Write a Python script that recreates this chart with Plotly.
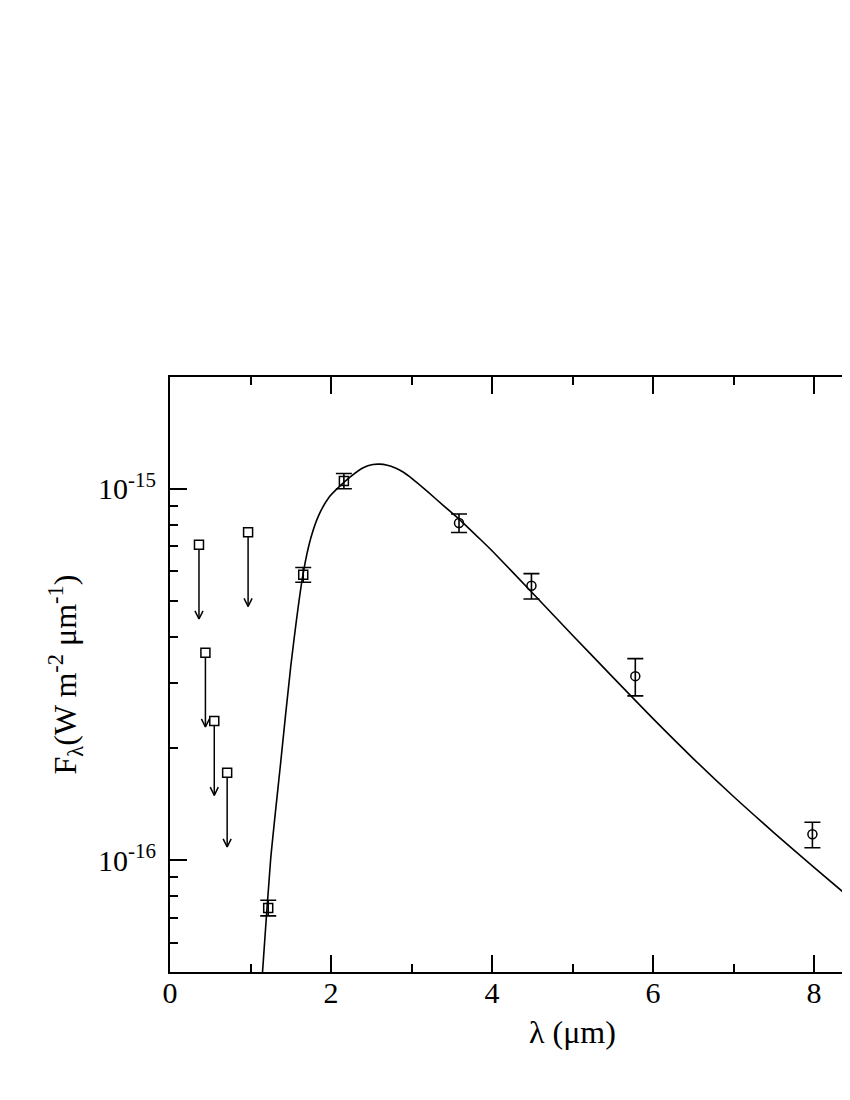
import numpy as np
import plotly.graph_objects as go

# photometric detections (squares: J, H, K)
nir_wl = [1.22, 1.655, 2.16]
nir_flux = [7.44e-17, 5.87e-16, 1.05e-15]
nir_hi = [7.80e-17, 6.14e-16, 1.10e-15]
nir_lo = [7.08e-17, 5.60e-16, 1.00e-15]

# IRAC detections (circles)
irac_wl = [3.59, 4.49, 5.78, 7.98]
irac_flux = [8.09e-16, 5.48e-16, 3.13e-16, 1.175e-16]
irac_hi = [8.55e-16, 5.91e-16, 3.49e-16, 1.265e-16]
irac_lo = [7.63e-16, 5.05e-16, 2.77e-16, 1.08e-16]

# optical upper limits
lim_wl = [0.36, 0.44, 0.55, 0.71, 0.97]
lim_flux = [7.07e-16, 3.62e-16, 2.37e-16, 1.72e-16, 7.64e-16]

# model curve
model_wl = [1.12, 1.15, 1.25, 1.37, 1.50, 1.655, 1.75, 1.85, 1.98, 2.10, 2.24, 2.40,
            2.52, 2.60, 2.70, 2.80, 2.90, 3.00, 3.20, 3.40, 3.60, 3.86, 4.00, 4.50,
            5.00, 5.50, 6.00, 6.50, 7.00, 7.50, 8.00, 8.60]
model_flux = [4.09e-17, 5.02e-17, 1.004e-16, 1.79e-16, 3.325e-16, 5.93e-16, 7.38e-16,
              8.51e-16, 9.52e-16, 1.0125e-15, 1.077e-15, 1.139e-15, 1.162e-15, 1.165e-15,
              1.157e-15, 1.137e-15, 1.108e-15, 1.068e-15, 9.82e-16, 9.00e-16, 8.25e-16,
              7.29e-16, 6.81e-16, 5.25e-16, 4.035e-16, 3.111e-16, 2.405e-16, 1.878e-16,
              1.484e-16, 1.187e-16, 9.56e-17, 7.42e-17]

ARROW_DEX = 0.2      # arrow length in decades
HEAD_DEX = 0.022     # arrowhead height in decades
HEAD_DX = 0.05       # arrowhead half width in microns

FONT = "Liberation Serif"
BLACK = "black"

fig = go.Figure()

fig.add_trace(go.Scatter(
    x=model_wl, y=model_flux, mode="lines",
    line=dict(color=BLACK, width=1.6, shape="spline", smoothing=0.6),
    showlegend=False, hoverinfo="skip",
))

# upper limit arrows
shaft_x, shaft_y, head_x, head_y = [], [], [], []
for wl, f in zip(lim_wl, lim_flux):
    tip = f * 10 ** (-ARROW_DEX)
    shaft_x += [wl, wl, None]
    shaft_y += [f, tip, None]
    head_x += [wl - HEAD_DX, wl, wl + HEAD_DX, None]
    head_y += [tip * 10 ** HEAD_DEX, tip, tip * 10 ** HEAD_DEX, None]
fig.add_trace(go.Scatter(x=shaft_x, y=shaft_y, mode="lines",
                         line=dict(color=BLACK, width=1.5), showlegend=False))
fig.add_trace(go.Scatter(x=head_x, y=head_y, mode="lines",
                         line=dict(color=BLACK, width=1.5), showlegend=False))
fig.add_trace(go.Scatter(
    x=lim_wl, y=lim_flux, mode="markers",
    marker=dict(symbol="square", size=9, color="white", line=dict(color=BLACK, width=1.5)),
    showlegend=False,
))

err_style = dict(type="data", symmetric=False, color=BLACK, thickness=1.6, width=8)

fig.add_trace(go.Scatter(
    x=nir_wl, y=nir_flux, mode="markers",
    marker=dict(symbol="square-open", size=9, color=BLACK, line=dict(width=1.5)),
    error_y=dict(array=np.subtract(nir_hi, nir_flux), arrayminus=np.subtract(nir_flux, nir_lo), **err_style),
    showlegend=False,
))
fig.add_trace(go.Scatter(
    x=irac_wl, y=irac_flux, mode="markers",
    marker=dict(symbol="circle-open", size=9, color=BLACK, line=dict(width=1.5)),
    error_y=dict(array=np.subtract(irac_hi, irac_flux), arrayminus=np.subtract(irac_flux, irac_lo), **err_style),
    showlegend=False,
))

fig.update_layout(
    width=842, height=1070,
    paper_bgcolor="white", plot_bgcolor="white",
    margin=dict(l=162, r=0, t=369, b=106),
    font=dict(family=FONT, size=30, color=BLACK),
    showlegend=False,
)

fig.update_xaxes(
    range=[0, 8.447], showgrid=False, zeroline=False,
    showline=True, linewidth=2, linecolor=BLACK, mirror="allticks",
    ticks="inside", ticklen=17, tickwidth=1.5, tickcolor=BLACK, dtick=2, tick0=0,
    minor=dict(ticks="inside", ticklen=8, tickwidth=1.5, tickcolor=BLACK, dtick=1, showgrid=False),
    tickfont=dict(size=30), ticklabelstandoff=-7,
)

fig.update_yaxes(
    type="log", range=[np.log10(5e-17), np.log10(2e-15)],
    showgrid=False, zeroline=False,
    showline=True, linewidth=2, linecolor=BLACK, mirror=False,
    ticks="inside", ticklen=17, tickwidth=1.5, tickcolor=BLACK,
    tickvals=[1e-16, 1e-15], ticktext=["10<sup>-16</sup>", "10<sup>-15</sup>"],
    minor=dict(ticks="inside", ticklen=8, tickwidth=1.5, tickcolor=BLACK,
               tickvals=[6e-17, 7e-17, 8e-17, 9e-17] + [k * 1e-16 for k in range(2, 10)],
               showgrid=False),
    tickfont=dict(size=30), ticklabelstandoff=6,
)

# axis titles (the original x axis runs to 10, so its title sits at x = 5)
fig.add_annotation(text="λ (μm)", xref="x", x=5, yref="paper", y=0, yshift=-60,
                   xanchor="center", yanchor="middle", showarrow=False,
                   font=dict(size=32))
fig.add_annotation(text="F<sub>λ</sub>(W m<sup>-2</sup> μm<sup>-1</sup>)",
                   xref="paper", x=0, xshift=-105, yref="paper", y=0.5,
                   xanchor="center", yanchor="middle", textangle=-90, showarrow=False,
                   font=dict(size=32))

fig.write_html("out.html")
